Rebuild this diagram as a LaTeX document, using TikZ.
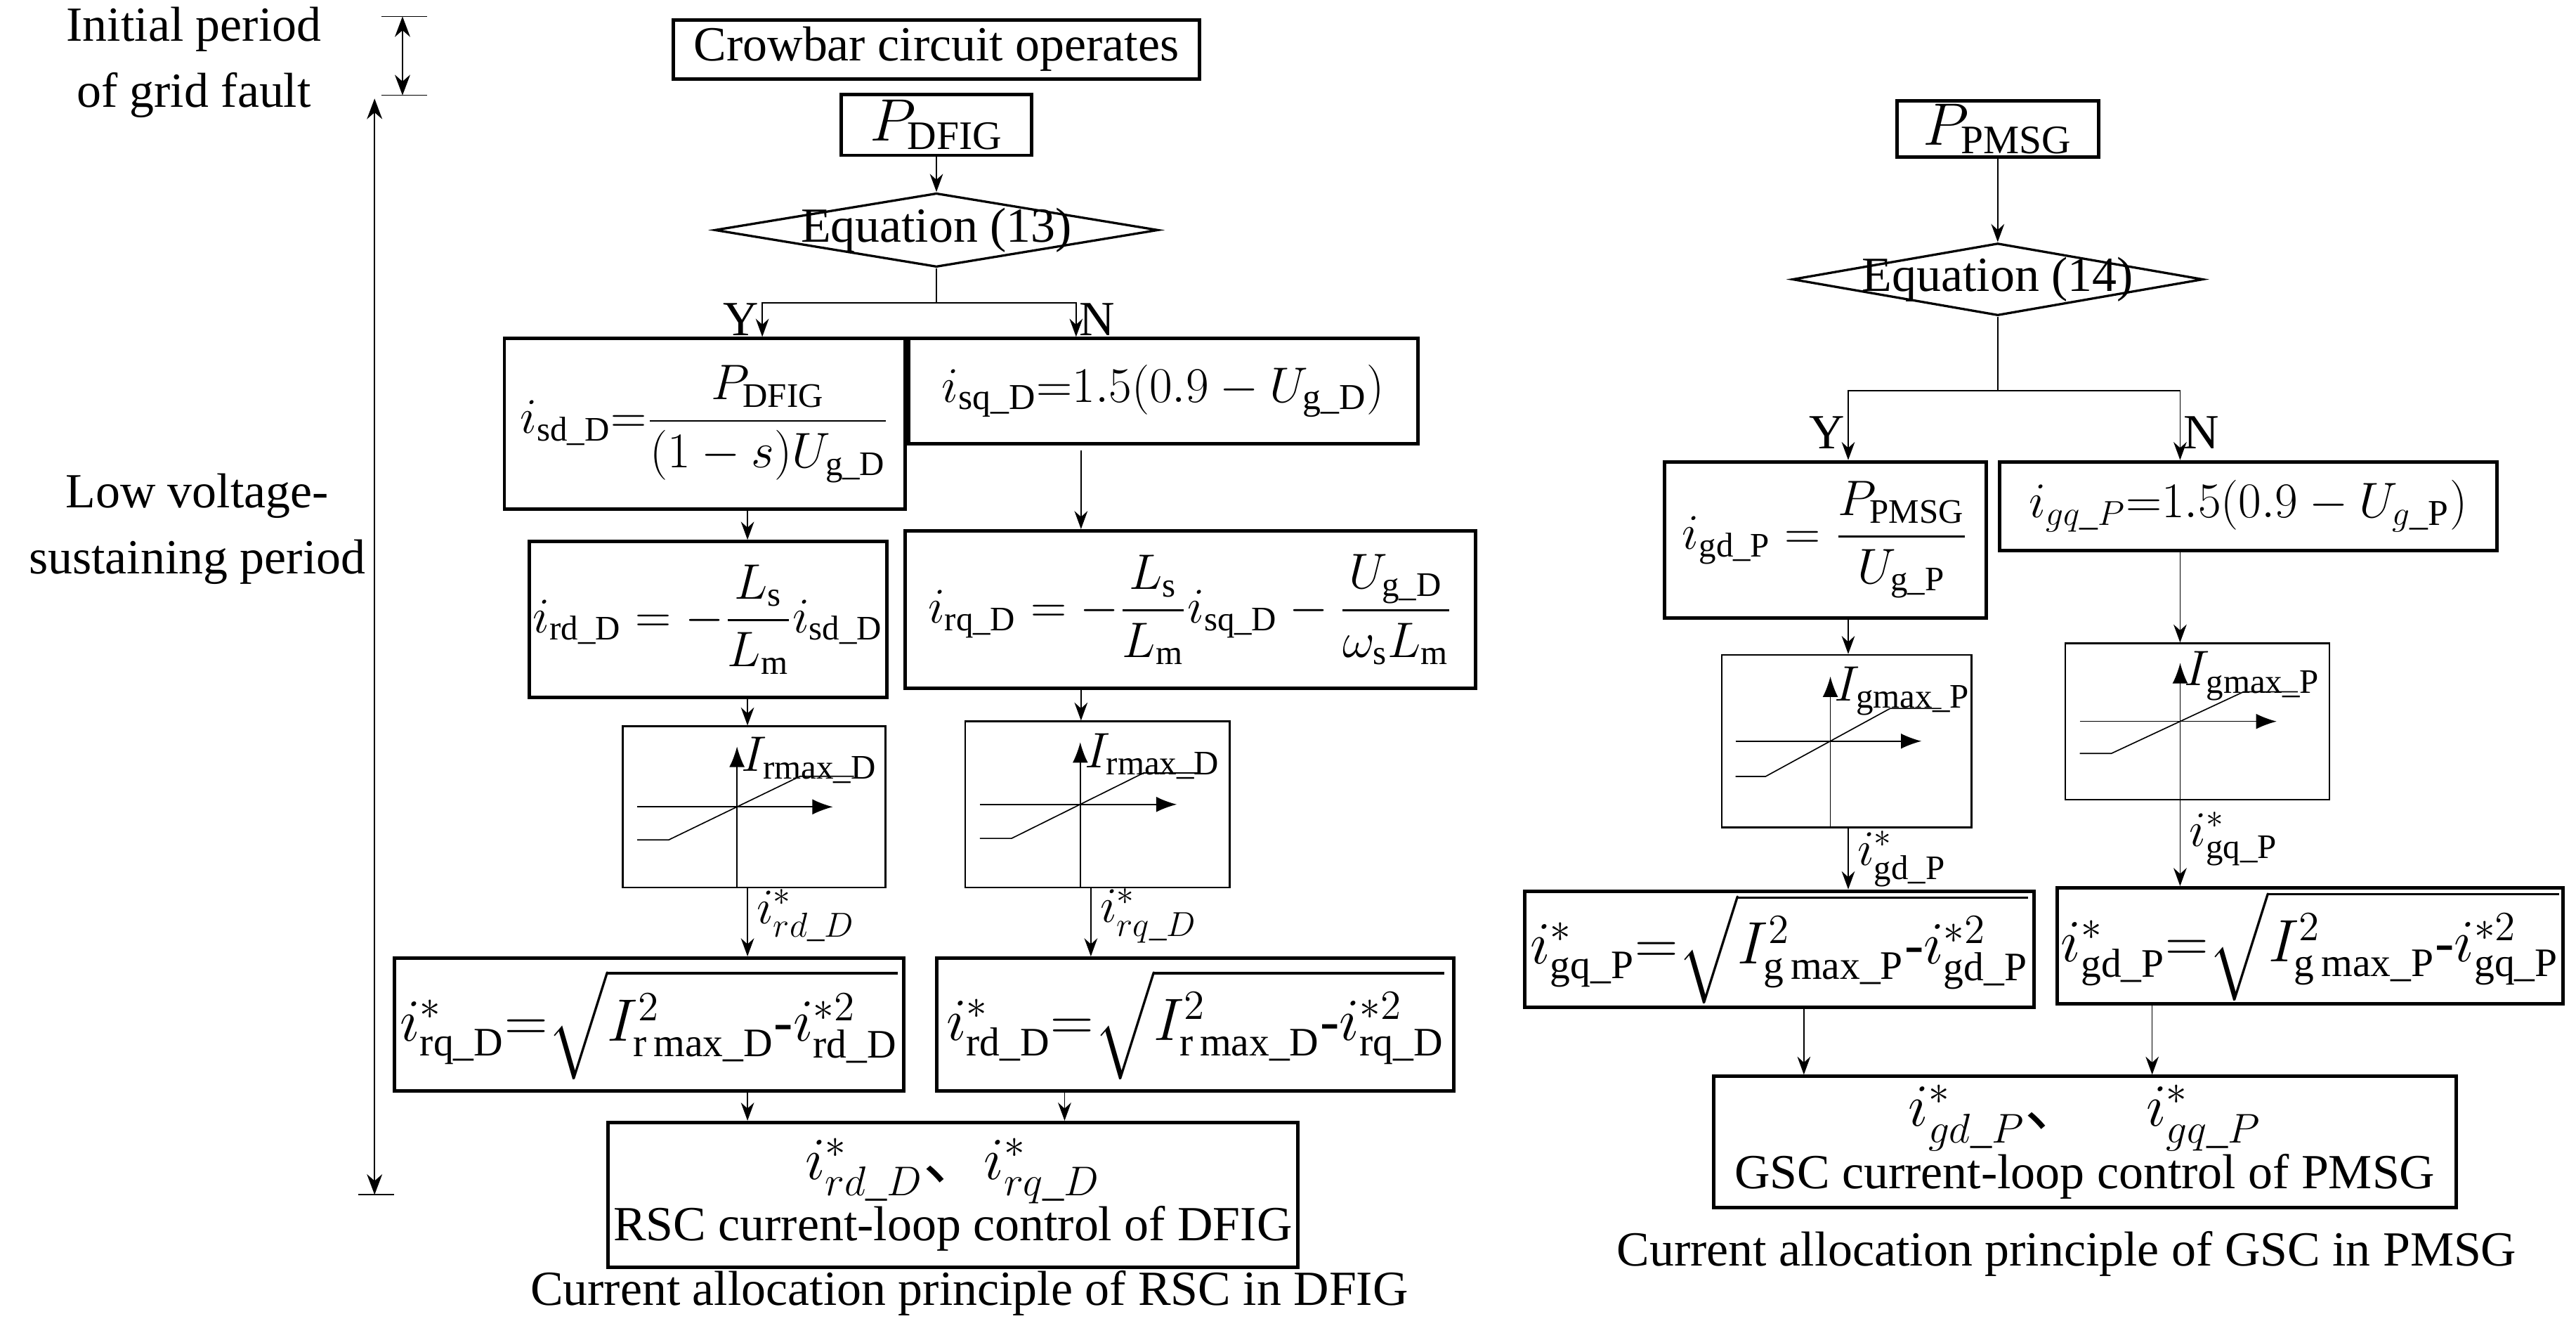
\documentclass[tikz,border=0pt]{standalone}
\usepackage{fontspec}
\setmainfont{Liberation Serif}
\newfontfamily\cjk{Noto Sans CJK SC}
\usepackage{amsmath}
\usetikzlibrary{shapes.geometric, arrows.meta, arrows, positioning, calc}

% saturation curve drawn inside a limiter node
\newcommand{\satmap}[4]{%
  \begin{scope}[shift={(#1.center)}, x=#2*0.01cm, y=#3*0.01cm]
    \draw[-{Latex[length=2.5mm]}] (-0.13,-1) -- (-0.13,0.75);
    \draw[-{Latex[length=2.5mm]}] (-0.89,0) -- (0.6,0);
    \draw (-0.89,-0.41) -- (-0.65,-0.41) -- (0.35,0.38) -- (0.76,0.38);
    \node[anchor=west, inner sep=0pt] at (-0.1,0.58) {#4};
  \end{scope}}

\begin{document}
\begin{tikzpicture}
      [x=0.02cm, y=-0.02cm,
      font=\fontsize{17}{19}\selectfont,
      block/.style={rectangle, draw=black, very thick, inner sep=1pt, align=center},
      big/.style={font=\fontsize{20}{22}\selectfont},
      mid/.style={font=\fontsize{18}{20}\selectfont},
      limit/.style={rectangle, draw=black, semithick, inner sep=0pt},
      cond/.style={diamond, draw=black, thick, inner sep=0pt},
      blank/.style={align=center, inner sep=0pt},
      line/.style={draw, -{Stealth[length=2.2mm,width=1.6mm]}}]
      \useasboundingbox (0,0) rectangle (1568,811);

      % time axis
      \node [blank] (init) at (118,38) {Initial period\\[4pt]of grid fault};
      \node [blank] (lvs) at (120,322) {Low voltage-\\[4pt]sustaining period};
      \coordinate (t0) at (245,10);
      \coordinate (t1) at (245,58);
      \coordinate (t2) at (228,60);
      \coordinate (t3) at (228,727);
      \draw (232,10) -- (260,10);
      \draw (232,58) -- (260,58);
      \draw (218,727) -- (240,727);
      \draw[{Stealth[length=2.5mm]}-{Stealth[length=2.5mm]}] (t0) -- (t1);
      \draw[{Stealth[length=2.5mm]}-{Stealth[length=2.5mm]}] (t2) -- (t3);

      % DFIG
      \node [block, minimum width=6.4cm, minimum height=0.72cm] (crow) at (570,30) {Crowbar circuit operates};
      \node [block, big, minimum width=2.32cm, minimum height=0.74cm] (pd) at (570,76) {$P_{\mathrm{DFIG}}$};
      \node [cond, minimum width=5.4cm, minimum height=0.9cm, label=center:{Equation (13)}] (eq13) at (570,140) {};
      \node [block, minimum width=4.88cm, minimum height=2.08cm] (isd) at (429,258)
        {$i_{\mathrm{sd\_D}}{=}\dfrac{P_{\mathrm{DFIG}}}{(1-s)U_{\mathrm{g\_D}}}$};
      \node [block, mid, minimum width=6.2cm, minimum height=1.28cm] (isq) at (708,238)
        {$i_{\mathrm{sq\_D}}{=}1.5(0.9-U_{\mathrm{g\_D}})$};
      \node [block, minimum width=4.36cm, minimum height=1.9cm] (ird) at (431,377)
        {$i_{\mathrm{rd\_D}}=-\dfrac{L_{\mathrm{s}}}{L_{\mathrm{m}}}i_{\mathrm{sd\_D}}$};
      \node [block, minimum width=6.94cm, minimum height=1.92cm] (irq) at (724.5,371)
        {$i_{\mathrm{rq\_D}}=-\dfrac{L_{\mathrm{s}}}{L_{\mathrm{m}}}i_{\mathrm{sq\_D}}-\dfrac{U_{\mathrm{g\_D}}}{\omega_{\mathrm{s}}L_{\mathrm{m}}}$};
      \node [limit, minimum width=3.2cm, minimum height=1.96cm] (lim1) at (459,491) {};
      \node [limit, minimum width=3.22cm, minimum height=2.02cm] (lim2) at (668,489.5) {};
      \satmap{lim1}{160}{98}{$I_{\mathrm{rmax\_D}}$}
      \satmap{lim2}{161}{101}{$I_{\mathrm{rmax\_D}}$}
      \node [block, big, minimum width=6.2cm, minimum height=1.62cm] (sq1) at (395,623.5)
        {$i^{*}_{\mathrm{rq\_D}}{=}\sqrt{I^{2}_{\mathrm{r\,max\_D}}\text{-}i^{*2}_{\mathrm{rd\_D}}}$};
      \node [block, big, minimum width=6.3cm, minimum height=1.62cm] (sq2) at (727.5,623.5)
        {$i^{*}_{\mathrm{rd\_D}}{=}\sqrt{I^{2}_{\mathrm{r\,max\_D}}\text{-}i^{*2}_{\mathrm{rq\_D}}}$};
      \node [block, minimum width=8.4cm, minimum height=1.76cm] (fin1) at (580,727)
        {{\fontsize{21}{23}\selectfont$i^{*}_{rd\_D}${\cjk 、}$i^{*}_{rq\_D}$}\\RSC current-loop control of DFIG};
      \node [blank] (cap1) at (590,787) {Current allocation principle of RSC in DFIG};

      \begin{scope}[every path/.style=line]
        \path (pd) -- (eq13);
        \path (eq13.south) -- ++(0,21) -| node[pos=0.75, left, inner sep=1pt] {Y} (isd.north -| 464,0);
        \path (eq13.south) ++(0,21) -| node[pos=0.75, right, inner sep=1pt] {N} (isq.north -| 655,0);
        \path (isd.south -| 455,0) -- (ird.north -| 455,0);
        \path (isq.south -| 658,0) ++(0,3) -- (irq.north -| 658,0);
        \path (ird.south -| 455,0) -- (lim1.north -| 455,0);
        \path (irq.south -| 658,0) -- (lim2.north -| 658,0);
        \path (lim1.south -| 455,0) -- node[pos=0.4, right, inner sep=3pt] {$i^{*}_{rd\_D}$} (sq1.north -| 455,0);
        \path (lim2.south -| 664,0) -- node[pos=0.4, right, inner sep=3pt] {$i^{*}_{rq\_D}$} (sq2.north -| 664,0);
        \path (sq1.south -| 455,0) -- (fin1.north -| 455,0);
        \path (sq2.south -| 648,0) -- (fin1.north -| 648,0);
      \end{scope}

      % PMSG
      \node [block, big, minimum width=2.46cm, minimum height=0.66cm] (pp) at (1216,78.5) {$P_{\mathrm{PMSG}}$};
      \node [cond, minimum width=5cm, minimum height=0.88cm, label=center:{Equation (14)}] (eq14) at (1216,170) {};
      \node [block, minimum width=3.92cm, minimum height=1.9cm] (igd) at (1111,328.5)
        {$i_{\mathrm{gd\_P}}=\dfrac{P_{\mathrm{PMSG}}}{U_{\mathrm{g\_P}}}$};
      \node [block, mid, minimum width=6.06cm, minimum height=1.08cm] (igq) at (1368.5,308)
        {$i_{gq\_P}{=}1.5(0.9-U_{g\_\mathrm{P}})$};
      \node [limit, minimum width=3.04cm, minimum height=2.1cm] (lim3) at (1124,451) {};
      \node [limit, minimum width=3.22cm, minimum height=1.9cm] (lim4) at (1337.5,439) {};
      \satmap{lim3}{152}{105}{$I_{\mathrm{gmax\_P}}$}
      \satmap{lim4}{161}{95}{$I_{\mathrm{gmax\_P}}$}
      \node [block, big, minimum width=6.2cm, minimum height=1.38cm] (sq3) at (1083,577.5)
        {$i^{*}_{\mathrm{gq\_P}}{=}\sqrt{I^{2}_{\mathrm{g\,max\_P}}\text{-}i^{*2}_{\mathrm{gd\_P}}}$};
      \node [block, big, minimum width=6.16cm, minimum height=1.38cm] (sq4) at (1406,575.5)
        {$i^{*}_{\mathrm{gd\_P}}{=}\sqrt{I^{2}_{\mathrm{g\,max\_P}}\text{-}i^{*2}_{\mathrm{gq\_P}}}$};
      \node [block, minimum width=9.04cm, minimum height=1.6cm] (fin2) at (1269,695)
        {{\fontsize{21}{23}\selectfont$i^{*}_{gd\_P}${\cjk 、}\quad$i^{*}_{gq\_P}$}\\GSC current-loop control of PMSG};
      \node [blank] (cap2) at (1258,763) {Current allocation principle of GSC in PMSG};

      \begin{scope}[every path/.style=line]
        \path (pp) -- (eq14);
        \path (eq14.south) -- ++(0,45) -| node[pos=0.8, left, inner sep=1pt] {Y} (igd.north -| 1125,0);
        \path (eq14.south) ++(0,45) -| node[pos=0.8, right, inner sep=1pt] {N} (igq.north -| 1327,0);
        \path (igd.south -| 1125,0) -- (lim3.north -| 1125,0);
        \path (igq.south -| 1327,0) -- (lim4.north -| 1327,0);
        \path (lim3.south -| 1125,0) -- node[right, inner sep=3pt] {$i^{*}_{\mathrm{gd\_P}}$} (sq3.north -| 1125,0);
        \path (lim4.south -| 1327,0) -- node[pos=0.45, right, inner sep=3pt] {$i^{*}_{\mathrm{gq\_P}}$} (sq4.north -| 1327,0);
        \path (sq3.south -| 1098,0) -- (fin2.north -| 1098,0);
        \path (sq4.south -| 1310,0) -- (fin2.north -| 1310,0);
      \end{scope}
\end{tikzpicture}
\end{document}
